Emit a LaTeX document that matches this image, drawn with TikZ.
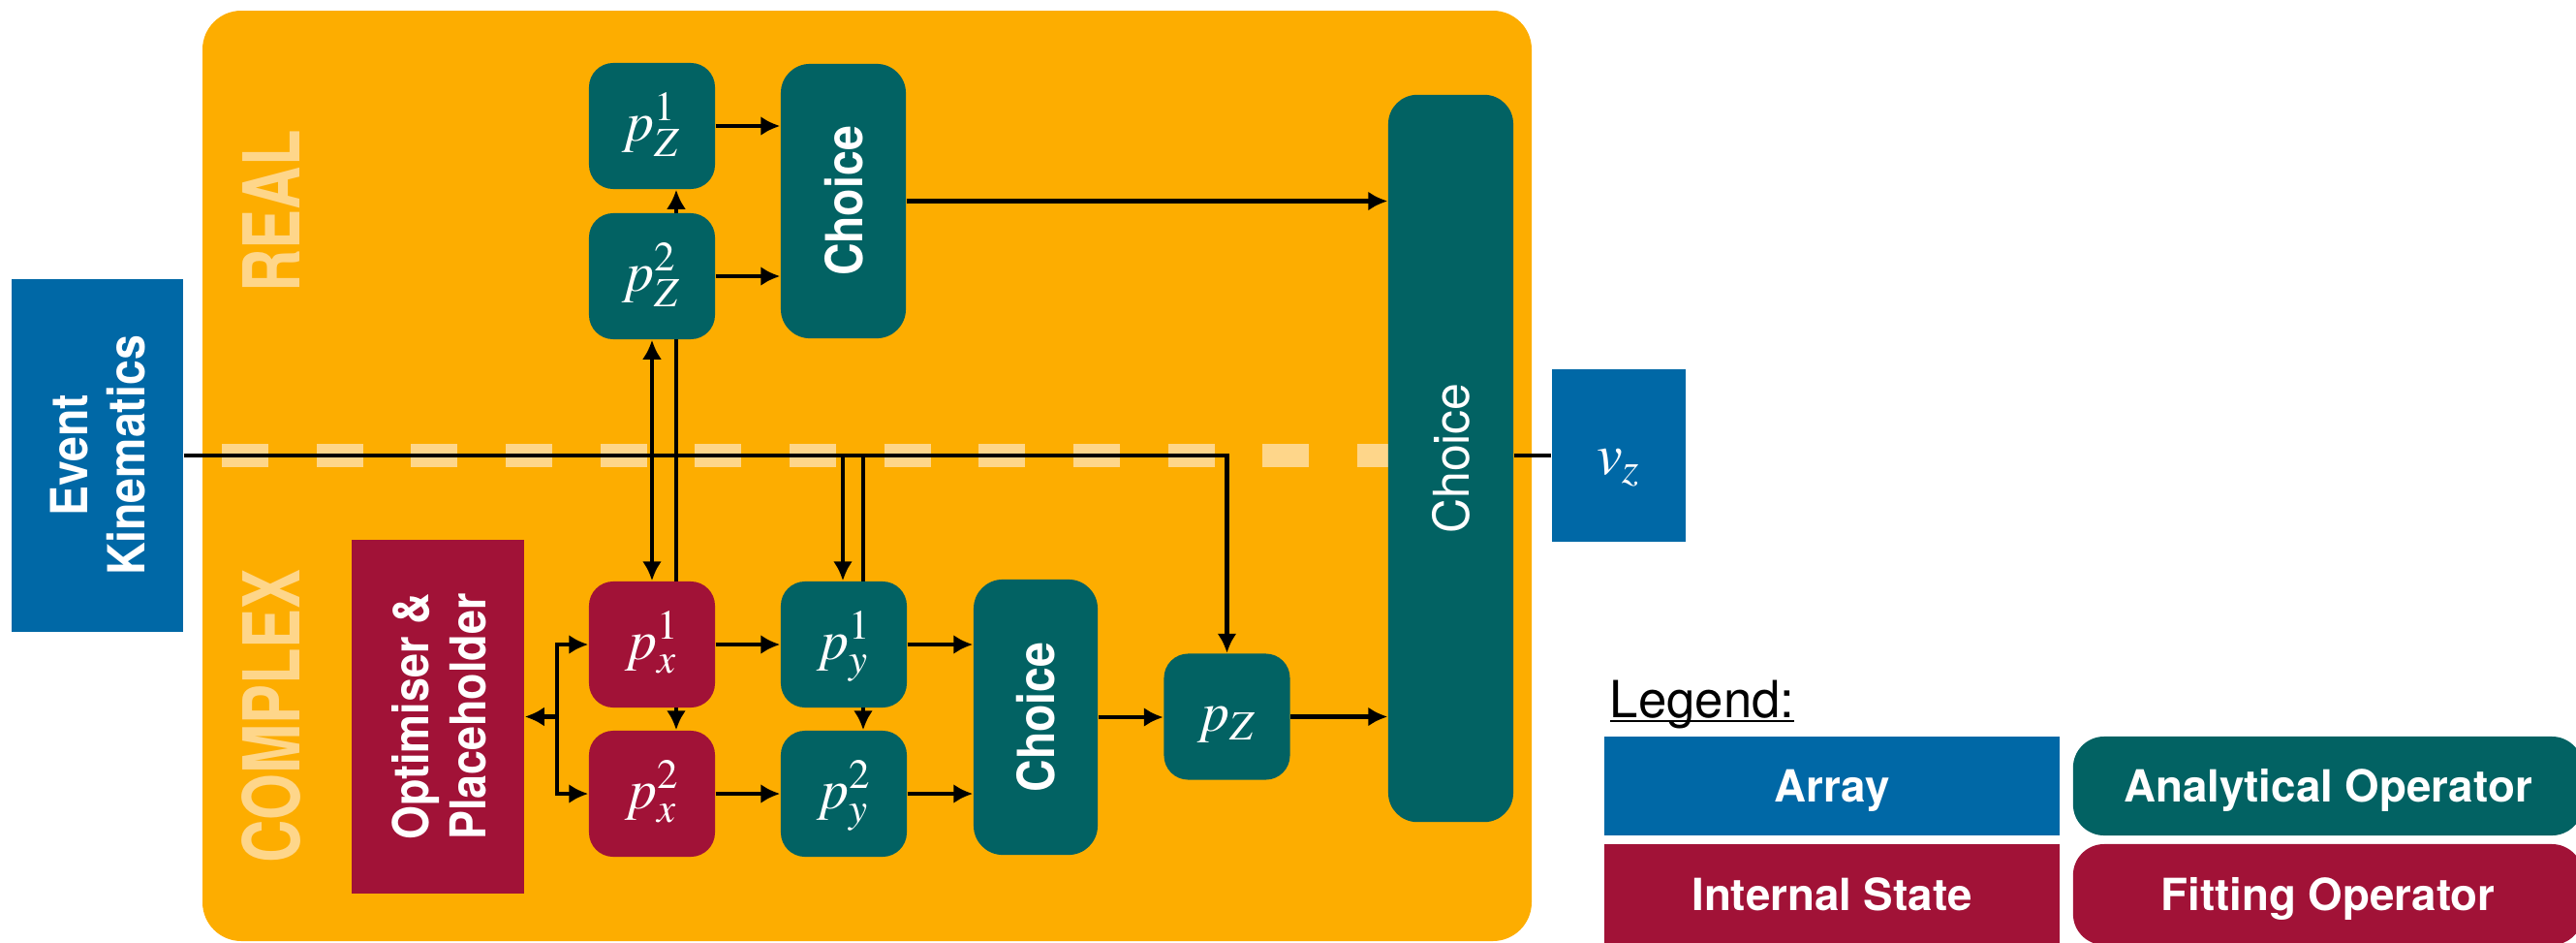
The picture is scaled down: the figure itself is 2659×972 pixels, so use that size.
\documentclass[tikz,border=0pt]{standalone}
\usepackage{mathptmx}
\usepackage[no-math]{fontspec}
\setmainfont{TeX Gyre Heros}
\usetikzlibrary{arrows.meta}
\definecolor{orangebg}{HTML}{FDAD00}
\definecolor{dashc}{HTML}{FED68A}
\definecolor{tealc}{HTML}{026263}
\definecolor{crim}{HTML}{A11237}
\definecolor{bluec}{HTML}{0068A6}
\pgfdeclarelayer{bg}
\pgfdeclarelayer{lines}
\pgfsetlayers{bg,lines,main}
\newcommand\vtext[2][0.88]{\rotatebox{90}{\raisebox{-2.3pt}[\height][\depth]{\scalebox{#1}[1]{\begin{tabular}{@{}c@{}}#2\end{tabular}}}}}
\newcommand\ulegend[1]{\setbox0\hbox{#1}\rlap{\rule[-1.45pt]{\wd0}{0.6pt}}\box0}
\begin{document}
\begin{tikzpicture}[x=0.01cm,y=-0.01cm,
  opbase/.style={inner sep=0pt, text=white, draw=none},
  arraybox/.style={opbase, fill=bluec},
  anabox/.style={opbase, fill=tealc, rounded corners=0.25cm},
  fitbox/.style={opbase, fill=crim, rounded corners=0.25cm},
  statebox/.style={opbase, fill=crim},
  sq/.style={minimum width=1.3cm, minimum height=1.3cm},
  mathlbl/.style={font=\fontsize{16.5}{18}\selectfont, text height=8.6pt, text depth=0pt},
  vlbl/.style={font=\fontsize{15}{16.8}\selectfont\bfseries},
  lgd/.style={font=\fontsize{13}{15}\selectfont\bfseries, text height=9.3pt, text depth=0pt},
  arr/.style={line width=1.15pt, -{Latex[length=0.2cm,width=0.2cm]}},
  conn/.style={line width=1.15pt},
  bigword/.style={inner sep=0pt, text=dashc, font=\fontsize{23}{25}\selectfont\bfseries}
]
\useasboundingbox (0,0) rectangle (2659,972);

\begin{pgfonlayer}{bg}
\fill[orangebg, rounded corners=0.4cm] (209,11) rectangle (1581,971);
\draw[dashc, line width=0.24cm, dash pattern=on 0.48cm off 0.496cm] (229,470) -- (1433,470);
\end{pgfonlayer}

% region labels
\node[bigword] (real) at (284,218) {\vtext[0.76]{REAL}};
\node[bigword] (complex) at (284,739) {\vtext[0.76]{COMPLEX}};

% nodes
\node[arraybox, minimum width=1.77cm, minimum height=3.64cm, vlbl] (ek) at (100.5,470) {\vtext{Event\\Kinematics}};
\node[statebox, minimum width=1.78cm, minimum height=3.65cm, font=\fontsize{14.5}{17}\selectfont\bfseries] (opt) at (452,739.5) {\vtext{Optimiser \&\\Placeholder}};
\node[anabox, sq, mathlbl] (pz1) at (673,130) {$p_Z^1$};
\node[anabox, sq, mathlbl] (pz2) at (673,285) {$p_Z^2$};
\node[anabox, minimum width=1.29cm, minimum height=2.83cm, rounded corners=0.3cm, vlbl] (ch1) at (870.5,207.5) {\vtext{Choice}};
\node[fitbox, sq, mathlbl] (px1) at (673,665) {$p_x^1$};
\node[fitbox, sq, mathlbl] (px2) at (673,819) {$p_x^2$};
\node[anabox, sq, mathlbl] (py1) at (871,665) {$p_y^1$};
\node[anabox, sq, mathlbl] (py2) at (871,819) {$p_y^2$};
\node[anabox, minimum width=1.28cm, minimum height=2.84cm, rounded corners=0.3cm, vlbl] (ch2) at (1069,740) {\vtext{Choice}};
\node[anabox, sq, mathlbl] (pz) at (1266.5,739.5) {$p_Z$};
\node[anabox, minimum width=1.29cm, minimum height=7.5cm, rounded corners=0.3cm, font=\fontsize{14.5}{16}\selectfont] (ch3) at (1497.5,473) {\vtext[0.98]{Choice}};
\node[arraybox, minimum width=1.38cm, minimum height=1.78cm, font=\fontsize{17}{19}\selectfont, text height=11pt, text depth=0pt] (vz) at (1671,470) {$v_z$};

% legend
\node[anchor=base west, inner sep=0pt, font=\fontsize{15}{17}\selectfont] (leg) at (1661,740) {\ulegend{Legend:}};
\node[arraybox, minimum width=4.7cm, minimum height=1.02cm, lgd] (la) at (1891,811) {Array};
\node[anabox, rounded corners=0.32cm, minimum width=5.26cm, minimum height=1.02cm, lgd] (lb) at (2403,811) {Analytical Operator};
\node[statebox, minimum width=4.7cm, minimum height=1.04cm, lgd] (lc) at (1891,923) {Internal State};
\node[fitbox, rounded corners=0.32cm, minimum width=5.26cm, minimum height=1.04cm, lgd] (ld) at (2403,923) {Fitting Operator};

% connectors
\begin{pgfonlayer}{lines}
\coordinate (j1) at (673,470);
\coordinate (j2) at (698,470);
\coordinate (j3) at (870,470);
\coordinate (j4) at (891,470);
\coordinate (oj) at (575,739.5);
\draw[arr] (ek.east) -| (pz.north);
\draw[arr] (j1) -- (j1 |- pz2.south);
\draw[arr] (j1) -- (j1 |- px1.north);
\draw[arr] (j2) -- (j2 |- pz1.south);
\draw[arr] (j2) -- (j2 |- px2.north);
\draw[arr] (j3) -- (j3 |- py1.north);
\draw[arr] (j4) -- (j4 |- py2.north);
\draw[arr] (pz1.east) -- (pz1.east -| ch1.west);
\draw[arr] (pz2.east) -- (pz2.east -| ch1.west);
\draw[arr] (ch1.east) -- (ch1.east -| ch3.west);
\draw[arr] (px1.east) -- (py1.west);
\draw[arr] (px2.east) -- (py2.west);
\draw[arr] (py1.east) -- (py1.east -| ch2.west);
\draw[arr] (py2.east) -- (py2.east -| ch2.west);
\draw[arr] (ch2.east) -- (ch2.east -| pz.west);
\draw[arr] (pz.east) -- (pz.east -| ch3.west);
\draw[conn] (vz.west -| ch3.east) -- (vz.west);
\draw[arr] (oj) -- (oj -| opt.east);
\draw[arr] (oj) |- (px1.west);
\draw[arr] (oj) |- (px2.west);
\end{pgfonlayer}
\end{tikzpicture}
\end{document}
